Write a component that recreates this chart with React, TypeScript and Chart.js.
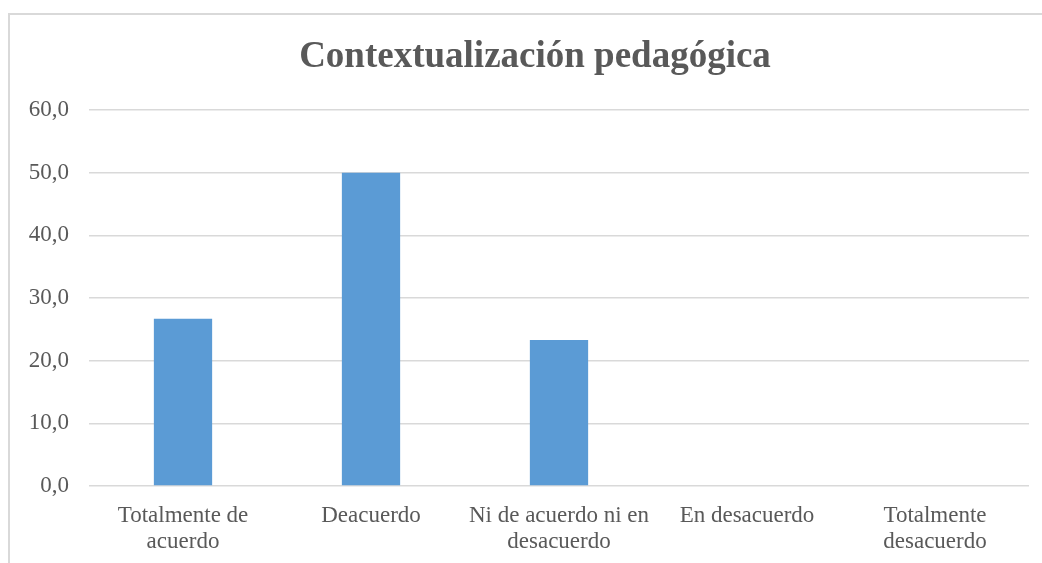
import React, { useEffect, useRef } from "react";
import { Chart, registerables } from "chart.js";

Chart.register(...registerables);

const title = "Contextualización pedagógica";
const categories: (string | string[])[] = [
  ["Totalmente de", "acuerdo"],
  "Deacuerdo",
  ["Ni de acuerdo ni en", "desacuerdo"],
  "En desacuerdo",
  ["Totalmente", "desacuerdo"],
];
const values = [26.7, 50.0, 23.3, 0, 0];
const yMin = 0;
const yMax = 60;
const yStep = 10;

const TEXT = "#595959";
const GRID = "#d9d9d9";
const BAR = "#5b9bd5";
const FONT = "'Liberation Serif', 'Times New Roman', serif";

const titlePlugin = {
  id: "customTitle",
  afterDraw(chart: any) {
    const ctx = chart.ctx;
    ctx.save();
    ctx.fillStyle = TEXT;
    ctx.font = `bold 37px ${FONT}`;
    ctx.textAlign = "center";
    ctx.textBaseline = "middle";
    ctx.fillText(title, 535, 57);
    ctx.restore();
  },
};

export default function App() {
  const ref = useRef<HTMLCanvasElement | null>(null);

  useEffect(() => {
    if (!ref.current) return;
    const chart = new Chart(ref.current, {
      type: "bar",
      data: {
        labels: categories,
        datasets: [
          {
            data: values,
            backgroundColor: BAR,
            borderWidth: 0,
            barPercentage: 0.62,
            categoryPercentage: 0.5,
          },
        ],
      },
      options: {
        responsive: false,
        animation: false,
        layout: { padding: { left: 0, right: 13, top: 110, bottom: 0 } },
        plugins: {
          legend: { display: false },
          tooltip: { enabled: false },
          title: { display: false },
        },
        scales: {
          x: {
            grid: { display: false, drawTicks: false },
            border: { display: false },
            ticks: {
              color: TEXT,
              font: { family: FONT, size: 23, lineHeight: 1.17 },
              maxRotation: 0,
              minRotation: 0,
              autoSkip: false,
              padding: 16,
            },
            afterFit: (s: any) => {
              s.height = 77;
            },
          },
          y: {
            min: yMin,
            max: yMax,
            grid: { color: GRID, lineWidth: 1.5, drawTicks: false },
            border: { display: false },
            ticks: {
              stepSize: yStep,
              color: TEXT,
              font: { family: FONT, size: 23 },
              padding: 20,
              callback: (v: any) => Number(v).toFixed(1).replace(".", ","),
            },
            afterFit: (s: any) => {
              s.width = 89;
            },
          },
        },
      },
      plugins: [titlePlugin],
    });
    return () => chart.destroy();
  }, []);

  return (
    <div
      style={{
        position: "fixed",
        left: 0,
        top: 0,
        width: 1042,
        height: 563,
        background: "#fff",
        overflow: "hidden",
      }}
    >
      <div
        style={{
          position: "absolute",
          left: 8,
          top: 13,
          width: 1100,
          height: 700,
          border: `2px solid ${GRID}`,
          boxSizing: "border-box",
        }}
      />
      <canvas
        ref={ref}
        width={1042}
        height={563}
        style={{ position: "absolute", left: 0, top: 0, width: 1042, height: 563 }}
      />
    </div>
  );
}
